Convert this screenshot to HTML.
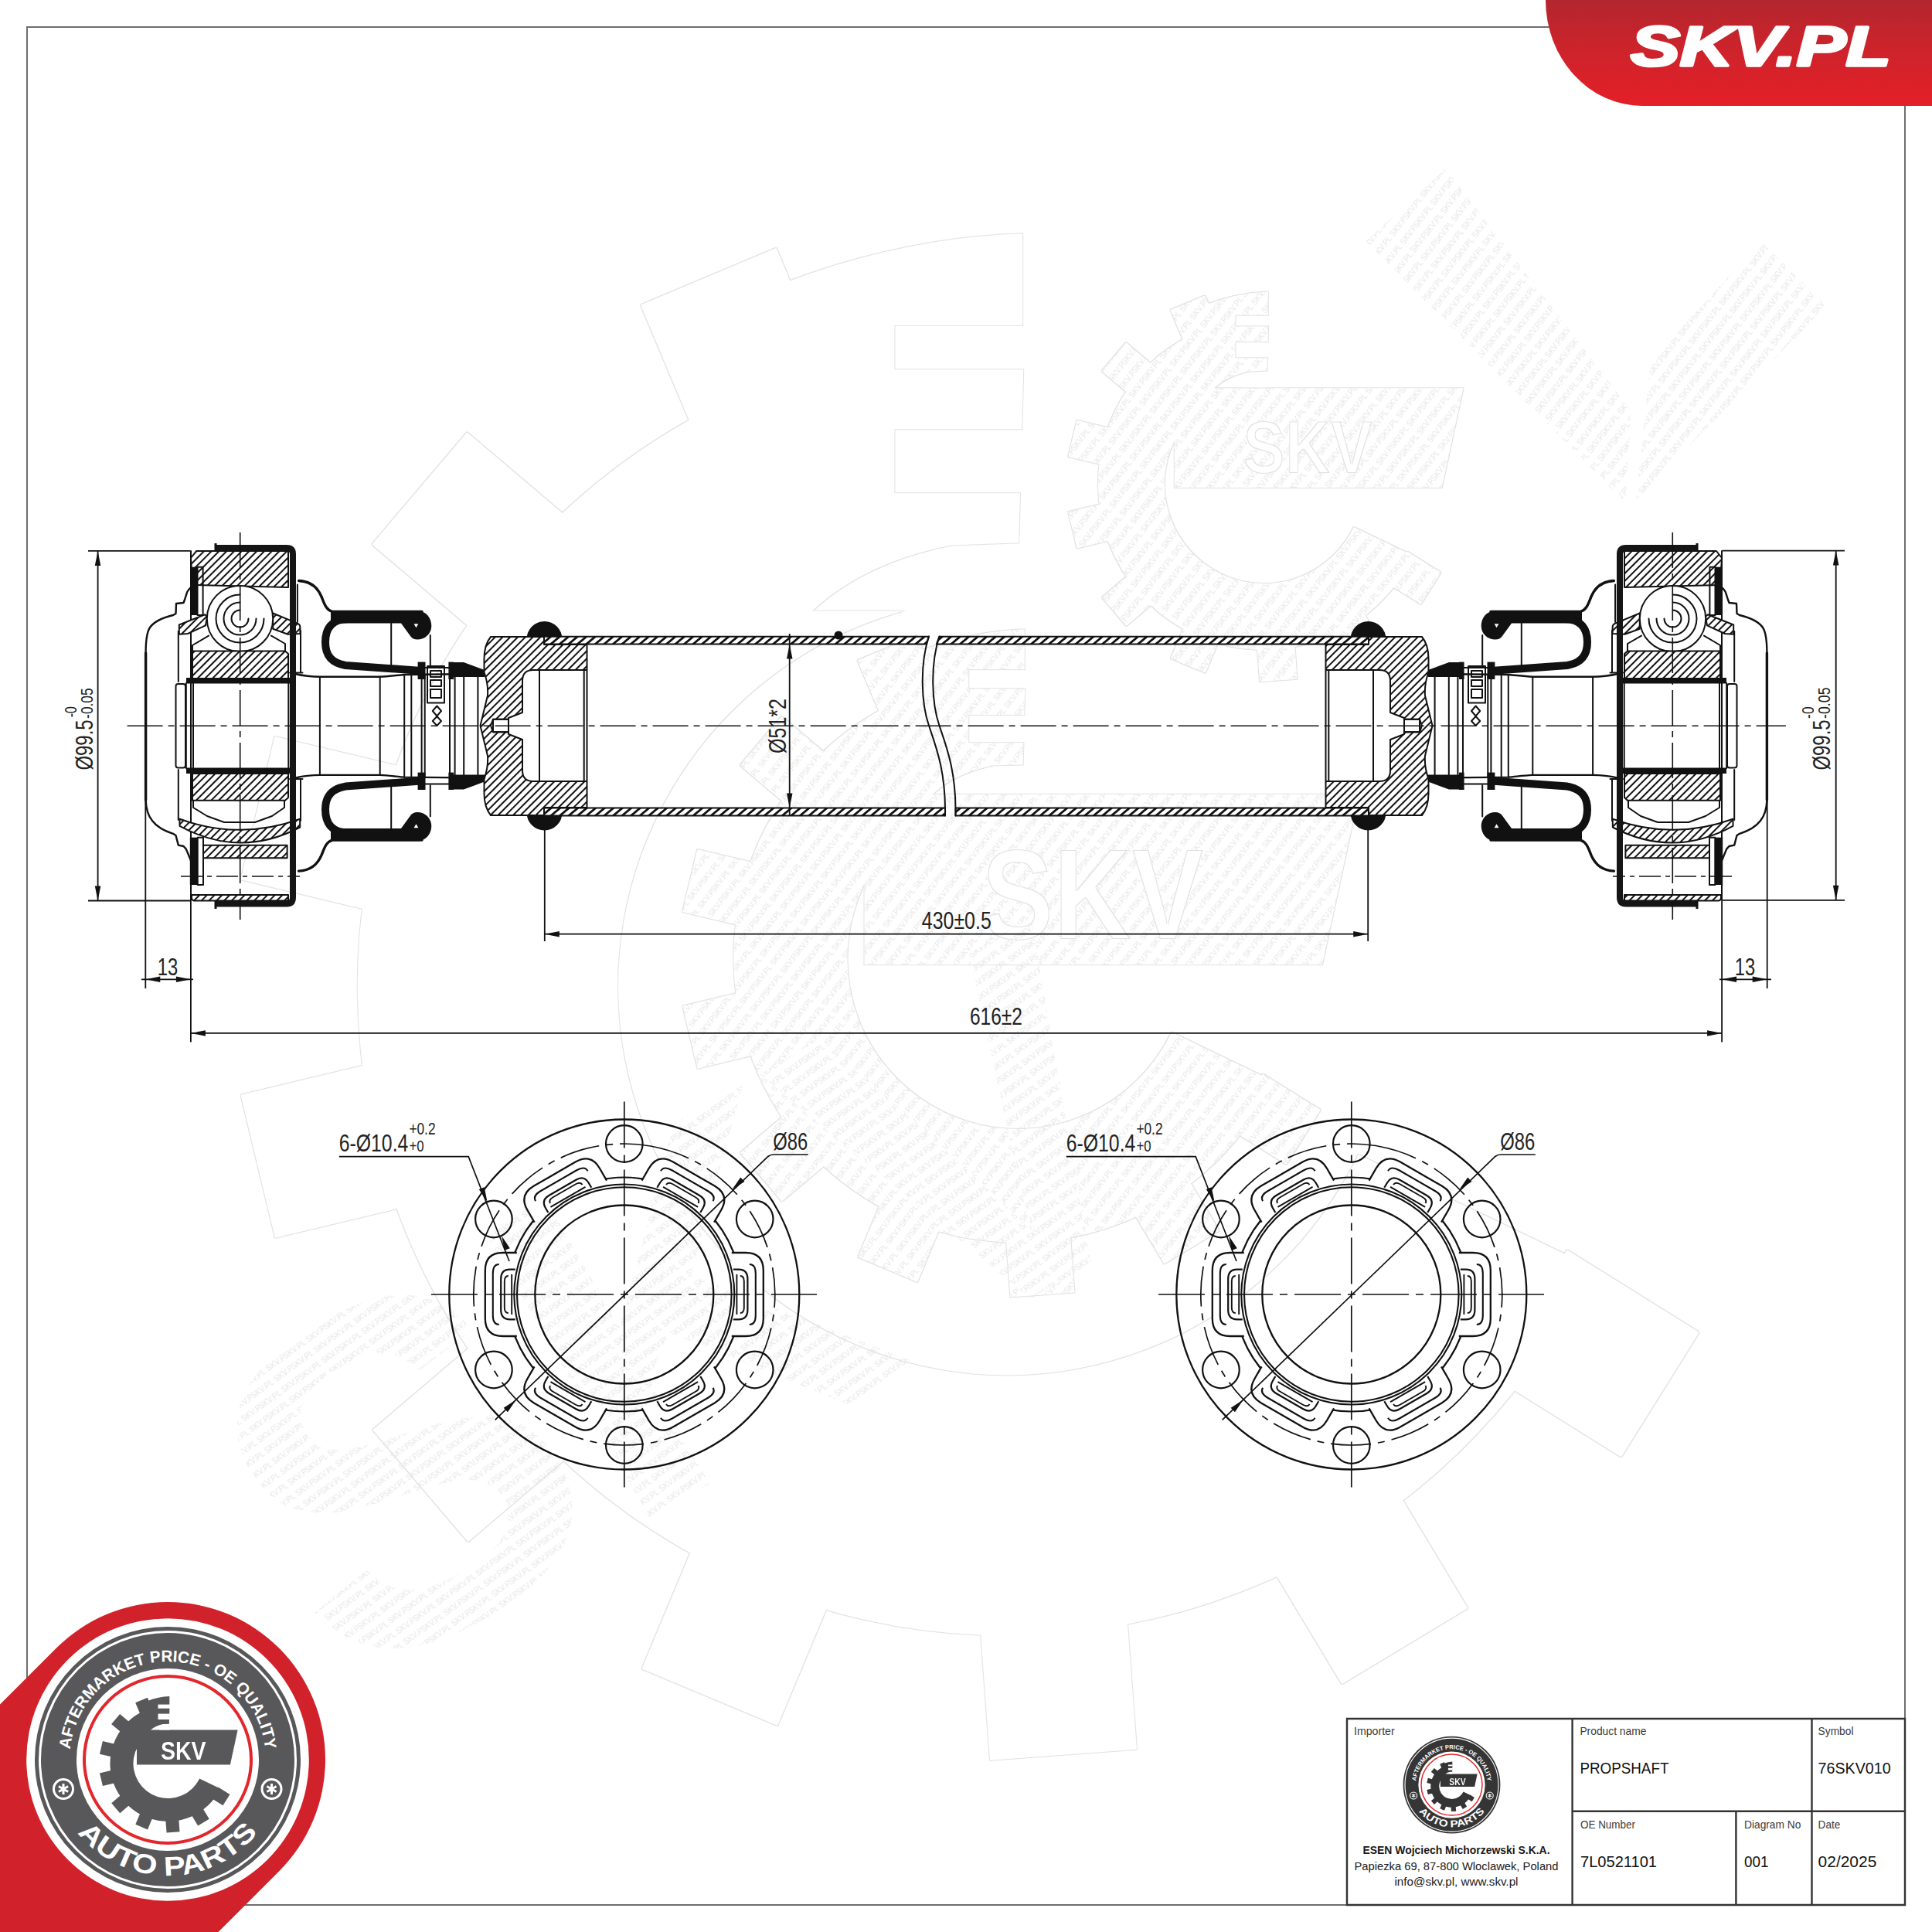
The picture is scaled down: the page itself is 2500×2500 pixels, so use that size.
<!DOCTYPE html>
<html><head><meta charset="utf-8"><title>76SKV010 PROPSHAFT</title>
<style>
html,body{margin:0;padding:0;background:#fff;}
body{width:2500px;height:2500px;overflow:hidden;font-family:"Liberation Sans",sans-serif;}
svg{display:block;}
.t{stroke:#111;fill:none;stroke-width:2;stroke-linejoin:round;stroke-linecap:round;}
.m{stroke:#111;fill:none;stroke-width:2.4;stroke-linejoin:round;stroke-linecap:round;}
.k{stroke:#111;fill:none;stroke-width:3.4;stroke-linejoin:round;stroke-linecap:round;}
.c{stroke:#111;fill:none;stroke-width:1.6;stroke-dasharray:46 7 8 7;}
.cs{stroke:#111;fill:none;stroke-width:1.5;stroke-dasharray:28 6 6 6;}
.h{fill:var(--h);stroke:#111;stroke-width:2;stroke-linejoin:round;}
.hf{fill:url(#fA);stroke:#111;stroke-width:2;stroke-linejoin:round;}
.b{fill:#111;stroke:none;}
.dl{stroke:#111;fill:none;stroke-width:1.8;}
.dim{font-family:"Liberation Sans",sans-serif;font-size:31px;fill:#222;}
.wm{stroke:#e9e9e9;fill:none;stroke-width:2.2;}
.wt{font-family:"Liberation Sans",sans-serif;font-size:11px;fill:#e4e4e4;}
</style></head>
<body>
<svg width="2500" height="2500" viewBox="0 0 2500 2500">
<defs>
  <pattern id="hA" width="6.9" height="6.9" patternUnits="userSpaceOnUse" patternTransform="rotate(45)">
    <rect width="6.9" height="6.9" fill="#fff"/><rect x="0" y="0" width="2" height="6.9" fill="#111"/>
  </pattern>
  <pattern id="hB" width="6.9" height="6.9" patternUnits="userSpaceOnUse" patternTransform="rotate(-45)">
    <rect width="6.9" height="6.9" fill="#fff"/><rect x="0" y="0" width="2" height="6.9" fill="#111"/>
  </pattern>
  <pattern id="fA" width="7.4" height="7.4" patternUnits="userSpaceOnUse" patternTransform="rotate(50)">
    <rect width="7.4" height="7.4" fill="#fff"/><rect x="0" y="0" width="2.8" height="7.4" fill="#111"/>
  </pattern>
  <pattern id="fB" width="7" height="7" patternUnits="userSpaceOnUse" patternTransform="rotate(-40)">
    <rect width="7" height="7" fill="#fff"/><rect x="0" y="0" width="2.4" height="7" fill="#111"/>
  </pattern>
  <linearGradient id="redtab" x1="0" y1="0" x2="0" y2="1">
    <stop offset="0" stop-color="#b3262e"/><stop offset="0.5" stop-color="#cf232b"/><stop offset="1" stop-color="#e41f27"/>
  </linearGradient>
  <marker id="ar" viewBox="0 0 20 8" refX="20" refY="4" markerWidth="20" markerHeight="8" markerUnits="userSpaceOnUse" orient="auto-start-reverse">
    <path d="M0,0 L20,4 L0,8 z" fill="#111"/>
  </marker>
    <g id="endL">
    <!-- yoke -->
    <path class="h" fill-rule="evenodd" d="M635,824 L704,824 L704,834 L759.5,834 L759.5,1045 L704,1045 L704,1055 L635,1055 Q626,1044 626.5,1024 L626.5,1008 Q632,993 631,978 L621.5,939 L631,900 Q632,885 626.5,870 L626.5,855 Q626,835 635,824 Z M759.5,867 L690,867 Q676,867 676,881 L676,922 L658,929 L658,930.7 L638,930.7 L635,939 L638,947.3 L658,947.3 L658,950 L676,957 L676,997 Q676,1011 690,1011 L759.5,1011 Z"/>
    <path class="t" d="M638,930.7 L658,930.7 L658,947.3 L638,947.3 Z M698,867 L698,1011 M755.7,867 L755.7,1011"/>
    <!-- stub shaft -->
    <path class="m" d="M381.6,872 C395,875 405,875.7 414,875.7 L491.7,875.7 C505,875 515,873.5 523,873 L627,872"/>
    <path class="m" d="M381.6,1006.6 C395,1003.6 405,1002.9 414,1002.9 L491.7,1002.9 C505,1003.6 515,1005.1 523,1005.6 L627,1006.6"/>
    <path class="t" d="M413.9,876 L413.9,1003 M491.7,876 L491.7,1003 M523.2,873 L523.2,1005.6 M532.3,873 L532.3,1005.6 M545.6,873 L545.6,1005.6 M549.7,873 L549.7,1005.6 M582,873 L582,1005.6 M588.6,873 L588.6,1005.6 M600.2,873 L600.2,1005.6 M618.4,873 L618.4,1005.6"/>
    <!-- boot top half (mirrored for bottom) -->
    <g id="bootT">
      <path class="k" d="M386.6,751.5 C400,752 410,758 416,772 C420,782 422,789 430,791.5 L546,791.5"/>
      <path d="M428,790.4 L540,790.4 C552,790.4 558.3,800 558.3,810 C558.3,820 550,827.6 540,827.6 C536,827.6 533,826 531,823 L519,806.5 L428,806.5 Z" fill="#111"/>
      <path d="M535.5,807.3 L541.3,807.3 L538.5,812.3 Z" fill="#fff"/>
      <path d="M450,801 C428,801 421,815 421,831 C421,849 430,858 447,861 L545,868" fill="none" stroke="#111" stroke-width="10" stroke-linejoin="round"/>
      <path class="t" d="M506.2,806 L506.2,861 M556.8,822 L556.8,862 M550,864 L590,864"/>
      <rect x="540.6" y="856.6" width="9.9" height="22.4" class="b"/>
      <rect x="580.4" y="856.6" width="6.6" height="22.4" class="b"/>
      <path class="b" d="M586,857 L600,857 L627,867 L627,876 L586,876 Z"/>
    </g>
    <use href="#bootT" transform="matrix(1,0,0,-1,0,1878.6)"/>
    <rect x="553" y="862" width="22" height="47.6" class="t"/>
    <path class="t" d="M557,868 L571,868 L571,876 L557,876 Z M557,880 L571,880 L571,888 L557,888 Z M557,892 L571,892 L571,903 L557,903 Z M565.4,913.5 L571,920 L565.4,926.5 L559.8,920 Z M565.4,927 L571,933 L565.4,939 L559.8,933 Z"/>

    <!-- CV joint -->
    <path class="k" d="M188.6,845 L188.6,1035"/>
    <path class="m" d="M247.4,759.6 C244,763 242,765 241.6,767.8 L239,776 L237.5,780 L228,781 L227.5,794 L224,796 C212,799 200,803 194,812 C190,818 188.6,828 188.6,845"/>
    <path class="m" d="M188.6,1035 C189,1048 192,1056 197,1062 C203,1070 212,1075 224,1078.8 L227.5,1081 L230.8,1093.6 L237.5,1095 L240.8,1098.6 L249,1118.5 L254,1123.5"/>
    <path class="t" d="M247,713 L247,1165"/>
    <!-- outer race top -->
    <path class="h" d="M247,722 L254,713 L373,713 L373,760 L249,757 Z"/>
    <!-- seal bars -->
    <rect x="246.7" y="733.7" width="8.8" height="62.3" class="b"/>
    <rect x="255.5" y="733.7" width="7.1" height="62.3" class="t"/>
    <rect x="245.8" y="1083.7" width="9.9" height="61.3" class="b"/>
    <rect x="255.7" y="1083.7" width="7.3" height="61.3" class="t"/>
    <!-- cage wings -->
    <path class="h" d="M231.8,808.5 L265.2,795.3 L268,798 L266,809.4 L243,820 L231.8,820.8 Z"/>
    <path class="h" d="M353.2,793.5 L384.9,806.7 Q388.4,808 388.4,812 L388.4,820 L372.5,820.8 L353.2,813.8 Z"/>
    <!-- ball -->
    <circle cx="310.5" cy="800.6" r="42.7" fill="#fff" stroke="#111" stroke-width="2"/>
    <path class="t" stroke-width="2" d="M310.5,789.6 A11,11 0 1 0 321.5,800.6 M310.5,779.6 A21,21 0 1 0 331.5,800.6 M310.5,769.6 A31,31 0 1 0 341.5,800.6"/>
    <!-- inner race -->
    <path class="t" d="M249,842 L249,835 L270,822.6 M351,822.6 L369,833 L369,842"/>
    <path class="h" d="M249,842.4 L369,842.4 L373,846 L373,878 L249,878 Z"/>
    <rect x="241" y="877" width="134" height="7.5" class="b"/>
    <rect x="241" y="993.5" width="134" height="7.5" class="b"/>
    <rect x="227.5" y="885" width="12.5" height="108.5" rx="3" class="t"/>
    <path class="t" d="M240.8,884 L240.8,994 M250,884 L250,994 M373.3,878 L373.3,1001"/>
    <path class="h" d="M249,1001 L373,1001 L373,1032 L369,1035.7 L249,1035.7 Z"/>
    <path class="t" d="M250,1036 L250,1045 L268,1056 L290,1064 L330,1064 L352,1056 L368,1045 L368,1036"/>
    <path class="h" d="M232.5,1059.7 Q310,1087.9 388.2,1059.7 L388.2,1070.5 Q310,1111.2 232.5,1068.8 Z"/>
    <rect x="263" y="1093.7" width="108.6" height="16.5" class="h"/>
    <path class="cs" d="M234,1134 L388,1134"/>
    <path class="h" d="M248,1158 L373,1158 L373,1165.5 L251,1165.5 Q248,1165 248,1162 Z"/>
    <path class="t" d="M230.8,817 L230.8,882 M230.8,996 L230.8,1061 M389,816 L389,870 M389,1008 L389,1062 M375,870.5 L391.5,870.5 M375,1008 L391.5,1008 M384.9,756.6 L384.9,805"/>
    <!-- shell -->
    <path d="M279,709 L371,709 Q379,709 379,717 L379,1161 Q379,1169.5 371,1169.5 L279,1169.5" fill="none" stroke="#151515" stroke-width="8" stroke-linejoin="round"/>
    <path d="M279,703 L279,713 M279,1165 L279,1176" stroke="#111" stroke-width="3"/>
    <!-- joint centerline -->
    <path class="c" d="M310.7,689 L310.7,1190"/>
  </g>

<g id="flange">
<circle r="226.5" fill="none" stroke="#111" stroke-width="2.3"/>
<circle r="151.5" fill="none" stroke="#111" stroke-width="2.2"/>
<g transform="rotate(0)"><path d="M139,-54 L157,-54 Q180,-54 180,-31 L180,31 Q180,54 157,54 L139,54" fill="#fff" stroke="#111" stroke-width="2.3"/><path d="M162,-39 Q170,-39 170,-27 L170,27 Q170,39 162,39" fill="none" stroke="#111" stroke-width="2.1"/><path d="M141,-32.3 L148,-32.3 Q159.6,-32.3 159.6,-20 L159.6,20 Q159.6,32.3 148,32.3 L141,32.3" fill="none" stroke="#111" stroke-width="2.2"/><path d="M145.6,-26 L145.6,26 M150,-24 Q155,-24 155,-17 L155,17 Q155,24 150,24" fill="none" stroke="#111" stroke-width="1.9"/></g>
<g transform="rotate(60)"><path d="M139,-54 L157,-54 Q180,-54 180,-31 L180,31 Q180,54 157,54 L139,54" fill="#fff" stroke="#111" stroke-width="2.3"/><path d="M162,-39 Q170,-39 170,-27 L170,27 Q170,39 162,39" fill="none" stroke="#111" stroke-width="2.1"/><path d="M141,-32.3 L148,-32.3 Q159.6,-32.3 159.6,-20 L159.6,20 Q159.6,32.3 148,32.3 L141,32.3" fill="none" stroke="#111" stroke-width="2.2"/><path d="M145.6,-26 L145.6,26 M150,-24 Q155,-24 155,-17 L155,17 Q155,24 150,24" fill="none" stroke="#111" stroke-width="1.9"/></g>
<g transform="rotate(120)"><path d="M139,-54 L157,-54 Q180,-54 180,-31 L180,31 Q180,54 157,54 L139,54" fill="#fff" stroke="#111" stroke-width="2.3"/><path d="M162,-39 Q170,-39 170,-27 L170,27 Q170,39 162,39" fill="none" stroke="#111" stroke-width="2.1"/><path d="M141,-32.3 L148,-32.3 Q159.6,-32.3 159.6,-20 L159.6,20 Q159.6,32.3 148,32.3 L141,32.3" fill="none" stroke="#111" stroke-width="2.2"/><path d="M145.6,-26 L145.6,26 M150,-24 Q155,-24 155,-17 L155,17 Q155,24 150,24" fill="none" stroke="#111" stroke-width="1.9"/></g>
<g transform="rotate(180)"><path d="M139,-54 L157,-54 Q180,-54 180,-31 L180,31 Q180,54 157,54 L139,54" fill="#fff" stroke="#111" stroke-width="2.3"/><path d="M162,-39 Q170,-39 170,-27 L170,27 Q170,39 162,39" fill="none" stroke="#111" stroke-width="2.1"/><path d="M141,-32.3 L148,-32.3 Q159.6,-32.3 159.6,-20 L159.6,20 Q159.6,32.3 148,32.3 L141,32.3" fill="none" stroke="#111" stroke-width="2.2"/><path d="M145.6,-26 L145.6,26 M150,-24 Q155,-24 155,-17 L155,17 Q155,24 150,24" fill="none" stroke="#111" stroke-width="1.9"/></g>
<g transform="rotate(240)"><path d="M139,-54 L157,-54 Q180,-54 180,-31 L180,31 Q180,54 157,54 L139,54" fill="#fff" stroke="#111" stroke-width="2.3"/><path d="M162,-39 Q170,-39 170,-27 L170,27 Q170,39 162,39" fill="none" stroke="#111" stroke-width="2.1"/><path d="M141,-32.3 L148,-32.3 Q159.6,-32.3 159.6,-20 L159.6,20 Q159.6,32.3 148,32.3 L141,32.3" fill="none" stroke="#111" stroke-width="2.2"/><path d="M145.6,-26 L145.6,26 M150,-24 Q155,-24 155,-17 L155,17 Q155,24 150,24" fill="none" stroke="#111" stroke-width="1.9"/></g>
<g transform="rotate(300)"><path d="M139,-54 L157,-54 Q180,-54 180,-31 L180,31 Q180,54 157,54 L139,54" fill="#fff" stroke="#111" stroke-width="2.3"/><path d="M162,-39 Q170,-39 170,-27 L170,27 Q170,39 162,39" fill="none" stroke="#111" stroke-width="2.1"/><path d="M141,-32.3 L148,-32.3 Q159.6,-32.3 159.6,-20 L159.6,20 Q159.6,32.3 148,32.3 L141,32.3" fill="none" stroke="#111" stroke-width="2.2"/><path d="M145.6,-26 L145.6,26 M150,-24 Q155,-24 155,-17 L155,17 Q155,24 150,24" fill="none" stroke="#111" stroke-width="1.9"/></g>
<circle r="138.8" fill="none" stroke="#111" stroke-width="2.1"/>
<circle r="142.5" fill="none" stroke="#111" stroke-width="2.1"/>
<circle r="115.5" fill="none" stroke="#111" stroke-width="2.3"/>
<circle r="195" fill="none" stroke="#111" stroke-width="1.7" stroke-dasharray="52 9 9 9" transform="rotate(-80)"/>
<circle cx="168.9" cy="97.5" r="23.8" fill="none" stroke="#111" stroke-width="2.2"/>
<circle cx="0.0" cy="195.0" r="23.8" fill="none" stroke="#111" stroke-width="2.2"/>
<circle cx="-168.9" cy="97.5" r="23.8" fill="none" stroke="#111" stroke-width="2.2"/>
<circle cx="-168.9" cy="-97.5" r="23.8" fill="none" stroke="#111" stroke-width="2.2"/>
<circle cx="-0.0" cy="-195.0" r="23.8" fill="none" stroke="#111" stroke-width="2.2"/>
<circle cx="168.9" cy="-97.5" r="23.8" fill="none" stroke="#111" stroke-width="2.2"/>
<path d="M-249.8,0 L249.2,0 M0,-249.4 L0,249.4" stroke="#111" stroke-width="1.7" fill="none" stroke-dasharray="60 9 10 9"/>
<path d="M-167.2,162.4 L186,-178.5 Q189,-181 193,-181 L238,-181" fill="none" stroke="#111" stroke-width="1.7"/>
<path d="M139.4,-135.5 L150.4,-151.4 L155.6,-146.0 Z M-139.9,136.3 L-150.9,152.2 L-156.1,146.8 Z " fill="#111"/>
<path d="M-369,-178.3 L-201.6,-178.3 L-148.8,-43" fill="none" stroke="#111" stroke-width="1.7"/>
<path d="M-177.2,-119.8 L-188.0,-135.9 L-181.1,-138.8 Z M-158.8,-75.9 L-148.0,-59.8 L-154.9,-56.9 Z " fill="#111"/>
<text class="dim" x="-369" y="-185.3" textLength="89.5" lengthAdjust="spacingAndGlyphs">6-Ø10.4</text>
<text class="dim" style="font-size:20px" x="-278.4" y="-185.3" textLength="19.1" lengthAdjust="spacingAndGlyphs">+0</text>
<text class="dim" style="font-size:22px" x="-278.4" y="-207" textLength="34.1" lengthAdjust="spacingAndGlyphs">+0.2</text>
<text class="dim" x="192.4" y="-186.8" textLength="45" lengthAdjust="spacingAndGlyphs">Ø86</text>
</g>
<mask id="gmask" maskUnits="userSpaceOnUse" x="-100" y="-100" width="200" height="210" maskContentUnits="userSpaceOnUse"><g fill="#fff"><path d="M41.1,24.4 L68.1,37.4 A75,75 0 1 1 2.5,-70.0 L1.7,-40.0 A45,45 0 1 0 41.1,24.4 Z"/><rect x="71" y="-8.5" width="18" height="17" transform="translate(0.5,5) rotate(32.0)"/><rect x="71" y="-8.5" width="18" height="17" transform="translate(0.5,5) rotate(58.9)"/><rect x="71" y="-8.5" width="18" height="17" transform="translate(0.5,5) rotate(85.8)"/><rect x="71" y="-8.5" width="18" height="17" transform="translate(0.5,5) rotate(112.7)"/><rect x="71" y="-8.5" width="18" height="17" transform="translate(0.5,5) rotate(139.6)"/><rect x="71" y="-8.5" width="18" height="17" transform="translate(0.5,5) rotate(166.5)"/><rect x="71" y="-8.5" width="18" height="17" transform="translate(0.5,5) rotate(193.4)"/><rect x="71" y="-8.5" width="18" height="17" transform="translate(0.5,5) rotate(220.3)"/><rect x="71" y="-8.5" width="18" height="17" transform="translate(0.5,5) rotate(247.2)"/><path d="M-40,-38.4 L90.6,-38.4 L80.9,6.6 L-40,6.6 Z"/><path d="M-26,-76 Q-12,-81.5 2.3,-82 L2.3,-66 L-26,-66 Z"/></g><g fill="#000"><rect x="-12.5" y="-71.4" width="16" height="5.1"/><rect x="-12.5" y="-59.4" width="16" height="7.4"/><path d="M3,-46.3 L-6,-46 Q-16,-44 -22,-38.4 L3,-38.4 Z"/><text x="20.25" y="-0.2" text-anchor="middle" textLength="58.7" lengthAdjust="spacingAndGlyphs" style="font-family:Liberation Sans;font-weight:bold;font-size:34px">SKV</text></g></mask>
<mask id="gmask2" maskUnits="userSpaceOnUse" x="-100" y="-100" width="200" height="210" maskContentUnits="userSpaceOnUse"><g fill="#fff"><path d="M41.1,24.4 L68.1,37.4 A75,75 0 1 1 2.5,-70.0 L1.7,-40.0 A45,45 0 1 0 41.1,24.4 Z"/><rect x="71" y="-8.5" width="18" height="17" transform="translate(0.5,5) rotate(32.0)"/><rect x="71" y="-8.5" width="18" height="17" transform="translate(0.5,5) rotate(58.9)"/><rect x="71" y="-8.5" width="18" height="17" transform="translate(0.5,5) rotate(85.8)"/><rect x="71" y="-8.5" width="18" height="17" transform="translate(0.5,5) rotate(112.7)"/><rect x="71" y="-8.5" width="18" height="17" transform="translate(0.5,5) rotate(139.6)"/><rect x="71" y="-8.5" width="18" height="17" transform="translate(0.5,5) rotate(166.5)"/><rect x="71" y="-8.5" width="18" height="17" transform="translate(0.5,5) rotate(193.4)"/><rect x="71" y="-8.5" width="18" height="17" transform="translate(0.5,5) rotate(220.3)"/><rect x="71" y="-8.5" width="18" height="17" transform="translate(0.5,5) rotate(247.2)"/><path d="M-26,-76 Q-12,-81.5 2.3,-82 L2.3,-66 L-26,-66 Z"/></g><g fill="#000"><rect x="-12.5" y="-71.4" width="16" height="5.1"/><rect x="-12.5" y="-59.4" width="16" height="7.4"/><path d="M3,-46.3 L-6,-46 Q-16,-44 -22,-38.4 L3,-38.4 Z"/></g></mask>
<g id="glogo2"><rect x="-100" y="-100" width="200" height="210" mask="url(#gmask2)"/></g>
<g id="glogo"><rect x="-100" y="-100" width="200" height="210" mask="url(#gmask)"/></g>
<g id="badge">
<circle r="172" style="fill:var(--g)"/>
<circle r="165.5" fill="none" stroke="#fff" stroke-width="3"/>
<circle r="118" fill="#fff"/>
<circle r="108" fill="none" stroke="#e3262b" stroke-width="4"/>
<use href="#glogo" style="fill:var(--g)"/>
<path id="arcT" d="M-126.3,-13.3 A127,127 0 0 1 126.4,-12.2" fill="none"/>
<text style="font-family:Liberation Sans;font-weight:bold;font-size:21px;fill:#fff"><textPath href="#arcT" textLength="372" lengthAdjust="spacingAndGlyphs">AFTERMARKET PRICE - OE QUALITY</textPath></text>
<path id="arcB" d="M-116.6,94.4 A150,150 0 0 0 116.6,94.4" fill="none"/>
<text style="font-family:Liberation Sans;font-weight:bold;font-size:35px;fill:#fff"><textPath href="#arcB" textLength="267" lengthAdjust="spacingAndGlyphs">AUTO PARTS</textPath></text>
<circle cx="-135" cy="38" r="12.5" fill="none" stroke="#fff" stroke-width="3"/>
<path d="M-135,31 L-135,45 M-141.1,34.5 L-128.9,41.5 M-141.1,41.5 L-128.9,34.5" stroke="#fff" stroke-width="3" fill="none"/>
<circle cx="134.5" cy="38" r="12.5" fill="none" stroke="#fff" stroke-width="3"/>
<path d="M134.5,31 L134.5,45 M128.4,34.5 L140.6,41.5 M128.4,41.5 L140.6,34.5" stroke="#fff" stroke-width="3" fill="none"/>
</g>
  <filter id="ol" x="-3%" y="-3%" width="106%" height="106%" color-interpolation-filters="sRGB">
    <feMorphology in="SourceAlpha" operator="dilate" radius="1.1" result="d"/>
    <feMorphology in="SourceAlpha" operator="erode" radius="0.3" result="e"/>
    <feComposite in="d" in2="e" operator="out" result="o"/>
    <feFlood flood-color="#e2e2e2"/>
    <feComposite in2="o" operator="in"/>
  </filter>
  <pattern id="tx" width="64" height="17" patternUnits="userSpaceOnUse" patternTransform="rotate(-52)">
    <rect width="64" height="17" fill="#fff"/><text x="0" y="12" style="font-family:'Liberation Sans',sans-serif;font-size:10px;fill:#e6e6e6">SKV.PL SKV.PL</text>
  </pattern>
  <pattern id="txS" href="#tx" patternTransform="rotate(-6)"/>
  <pattern id="txm" href="#tx" patternTransform="scale(0.3494) rotate(-52)"/>
  <pattern id="tx3" href="#tx" patternTransform="scale(0.2041) rotate(-52)"/>
  <!--ENDDEF-->
</defs>
<rect width="2500" height="2500" fill="#fff"/>
<!--WATERMARK-->
<g id="wm">
<g transform="translate(1634.2,612.1) scale(2.862)"><rect x="-100" y="-100" width="200" height="210" fill="url(#txm)" mask="url(#gmask)"/></g>
<g transform="translate(1314.5,1216) scale(4.9)"><rect x="-100" y="-100" width="200" height="210" fill="url(#tx3)" mask="url(#gmask)"/></g>
<path d="M1767,312 L1871,218 L2111,532 L2104,651 Z M2136,467 L2279,312 L2363,396 L2117,648 Z" fill="url(#tx)"/>
<text transform="translate(447,2192) rotate(-30)" style="font-family:'Liberation Sans',sans-serif;font-weight:bold;font-size:620px" fill="url(#txS)">SKV</text>
<g filter="url(#ol)"><use href="#glogo" transform="translate(1634.2,612.1) scale(2.862)"/></g>
<g filter="url(#ol)"><use href="#glogo" transform="translate(1314.5,1216) scale(4.9)"/></g>
<g filter="url(#ol)"><use href="#glogo2" transform="translate(1297.4,1220.6) scale(11.2)"/></g>
</g>
<!--BORDER-->
<rect x="35" y="35" width="2430" height="2430" fill="none" stroke="#6e6e6e" stroke-width="2"/>
<!--REDTAB-->
<path d="M2000,0 L2500,0 L2500,137 L2125,137 A125,137 0 0 1 2000,0 Z" fill="url(#redtab)"/>
<text x="2110" y="85.3" font-family="Liberation Sans" font-weight="bold" font-style="italic" font-size="73" fill="#fff" stroke="#fff" stroke-width="3.6" stroke-linejoin="round" textLength="337" lengthAdjust="spacingAndGlyphs">SKV.PL</text>
<!--SHAFT-->
<!-- beads -->
<g class="b"><circle cx="704.5" cy="827" r="23"/><circle cx="704.5" cy="1051.6" r="23"/><circle cx="1770.5" cy="827" r="23"/><circle cx="1770.5" cy="1051.6" r="23"/></g>
<!-- tube -->
<g>
  <path class="hf" d="M704,823.7 L1202,823.7 L1198.3,833.6 L704,833.6 Z"/>
  <path class="hf" d="M1215.5,823.7 L1771,823.7 L1771,833.6 L1211.8,833.6 Z"/>
  <path class="hf" d="M704,1045.5 L1223,1045.5 L1223,1055.5 L704,1055.5 Z"/>
  <path class="hf" d="M1236.5,1045.5 L1771,1045.5 L1771,1055.5 L1236.5,1055.5 Z"/>
  <path class="t" stroke-width="2" d="M1202,823.5 C1190,860 1192,910 1202,939 C1212,968 1224,1000 1223,1055.5 M1215.5,823.5 C1203.5,860 1205.5,910 1215.5,939 C1225.5,968 1237.5,1000 1236.5,1055.5"/>
  <circle cx="1085" cy="822" r="5.5" class="b"/>
</g>
<use href="#endL" style="--h:url(#hA)"/>
<use href="#endL" transform="translate(2475,0) scale(-1,1)" style="--h:url(#hB)"/>
<path class="c" d="M164.6,939.3 L2310.9,939.3"/>

<g id="dims">
<path class="dl" d="M114.0,712.9 L246.0,712.9 M114.0,1165.5 L247.0,1165.5 M126.6,713.0 L126.6,1165.5 M2228.6,712.6 L2387.0,712.6 M2228.6,1164.8 L2387.0,1164.8 M2375.7,712.6 L2375.7,1164.8 M188.3,1035.0 L188.3,1279.0 M246.9,1166.0 L246.9,1348.4 M183.0,1267.3 L250.0,1267.3 M2286.7,1035.0 L2286.7,1279.0 M2228.1,1166.0 L2228.1,1348.4 M2225.0,1267.3 L2292.0,1267.3 M246.9,1336.9 L2228.1,1336.9 M704.8,1074.0 L704.8,1218.0 M1770.2,1074.0 L1770.2,1218.0 M704.8,1208.7 L1770.2,1208.7 M1021.7,820.0 L1021.7,1056.0"/>
<path class="b" d="M126.6,713.0 L130.3,732.0 L122.8,732.0 Z M126.6,1165.5 L122.8,1146.5 L130.3,1146.5 Z M2375.7,712.6 L2379.4,731.6 L2371.9,731.6 Z M2375.7,1164.8 L2371.9,1145.8 L2379.4,1145.8 Z M188.3,1267.3 L207.3,1263.5 L207.3,1271.0 Z M246.9,1267.3 L227.9,1271.0 L227.9,1263.5 Z M2286.7,1267.3 L2267.7,1271.0 L2267.7,1263.5 Z M2228.1,1267.3 L2247.1,1263.5 L2247.1,1271.0 Z M246.9,1336.9 L265.9,1333.2 L265.9,1340.7 Z M2228.1,1336.9 L2209.1,1340.7 L2209.1,1333.2 Z M704.8,1208.7 L723.8,1205.0 L723.8,1212.5 Z M1770.2,1208.7 L1751.2,1212.5 L1751.2,1205.0 Z M1021.7,833.6 L1025.5,852.6 L1018.0,852.6 Z M1021.7,1045.5 L1018.0,1026.5 L1025.5,1026.5 Z "/>
<text class="dim" style="font-size:31px" transform="translate(119.6,996.6) rotate(-90)" textLength="65.2" lengthAdjust="spacingAndGlyphs">Ø99.5</text>
<text class="dim" style="font-size:22px" transform="translate(119.6,929.9) rotate(-90)" textLength="39.6" lengthAdjust="spacingAndGlyphs">-0.05</text>
<text class="dim" style="font-size:22px" transform="translate(98.6,928.3) rotate(-90)" textLength="14" lengthAdjust="spacingAndGlyphs">-0</text>
<text class="dim" style="font-size:31px" transform="translate(2368.3,996.6) rotate(-90)" textLength="65.2" lengthAdjust="spacingAndGlyphs">Ø99.5</text>
<text class="dim" style="font-size:22px" transform="translate(2368.3,929.9) rotate(-90)" textLength="40.4" lengthAdjust="spacingAndGlyphs">-0.05</text>
<text class="dim" style="font-size:22px" transform="translate(2347.4,929.9) rotate(-90)" textLength="15.6" lengthAdjust="spacingAndGlyphs">-0</text>
<text class="dim" style="font-size:31px" transform="translate(1016.8,975) rotate(-90)" textLength="71" lengthAdjust="spacingAndGlyphs">Ø51*2</text>
<text class="dim" style="font-size:32px" x="203.8" y="1261.5" textLength="26.4" lengthAdjust="spacingAndGlyphs">13</text>
<text class="dim" style="font-size:32px" x="2244.8" y="1261.5" textLength="26.4" lengthAdjust="spacingAndGlyphs">13</text>
<text class="dim" style="font-size:31px" x="1254.9" y="1326.3" textLength="68" lengthAdjust="spacingAndGlyphs">616±2</text>
<text class="dim" style="font-size:31px" x="1192.8" y="1202.1" textLength="90" lengthAdjust="spacingAndGlyphs">430±0.5</text>
</g>
<!--FLANGES-->
<use href="#flange" transform="translate(807.8,1675)"/>
<use href="#flange" transform="translate(1748.8,1675)"/>

<!--BADGE-->
<g id="bigbadge">
<path d="M0,2205.5 L72.75,2132.75 A204,204 0 0 1 361.25,2421.25 L282.5,2500 L0,2500 Z" fill="#d1222b"/>
<circle cx="217" cy="2277" r="182.8" fill="#fff"/>
<use href="#badge" transform="translate(217,2277)" style="--g:#58585a"/>
</g>
<use href="#badge" transform="translate(1878.5,2309.6) scale(0.3657)" style="--g:#353535"/>

<!--TITLE-->
<g id="title">
<path d="M1743,2224 L2465,2224 L2465,2465 L1743,2465 Z M2034.6,2224 L2034.6,2465 M2344.5,2224 L2344.5,2465 M2034.6,2343.8 L2465,2343.8 M2246.4,2343.8 L2246.4,2465" fill="none" stroke="#333" stroke-width="2.4"/>
<g style="font-family:'Liberation Sans',sans-serif;font-size:15px;fill:#3a3a3a">
<text x="1752" y="2245.4" textLength="52.7" lengthAdjust="spacingAndGlyphs">Importer</text>
<text x="2044.4" y="2245.4" textLength="86" lengthAdjust="spacingAndGlyphs">Product name</text>
<text x="2352.6" y="2245.4" textLength="45.9" lengthAdjust="spacingAndGlyphs">Symbol</text>
<text x="2045" y="2365.6" textLength="71" lengthAdjust="spacingAndGlyphs">OE Number</text>
<text x="2257" y="2365.6" textLength="73.4" lengthAdjust="spacingAndGlyphs">Diagram No</text>
<text x="2352.6" y="2365.6" textLength="28.7" lengthAdjust="spacingAndGlyphs">Date</text>
</g>
<g style="font-family:'Liberation Sans',sans-serif;font-size:21px;fill:#111">
<text x="2044.4" y="2295" textLength="115" lengthAdjust="spacingAndGlyphs">PROPSHAFT</text>
<text x="2352.6" y="2295" textLength="94" lengthAdjust="spacingAndGlyphs">76SKV010</text>
<text x="2045" y="2415.5" textLength="99" lengthAdjust="spacingAndGlyphs">7L0521101</text>
<text x="2257" y="2415.5" textLength="31.5" lengthAdjust="spacingAndGlyphs">001</text>
<text x="2352.6" y="2415.5" textLength="75.7" lengthAdjust="spacingAndGlyphs">02/2025</text>
</g>
<g style="font-family:'Liberation Sans',sans-serif;font-size:15px;fill:#1a1a1a" text-anchor="middle">
<text x="1884.5" y="2398.7" font-weight="bold" textLength="242" lengthAdjust="spacingAndGlyphs">ESEN Wojciech Michorzewski S.K.A.</text>
<text x="1884.5" y="2419.8" textLength="264" lengthAdjust="spacingAndGlyphs">Papiezka 69, 87-800 Wloclawek, Poland</text>
<text x="1884.5" y="2440" textLength="160" lengthAdjust="spacingAndGlyphs">info@skv.pl, www.skv.pl</text>
</g>
</g>
</svg>
</body></html>
